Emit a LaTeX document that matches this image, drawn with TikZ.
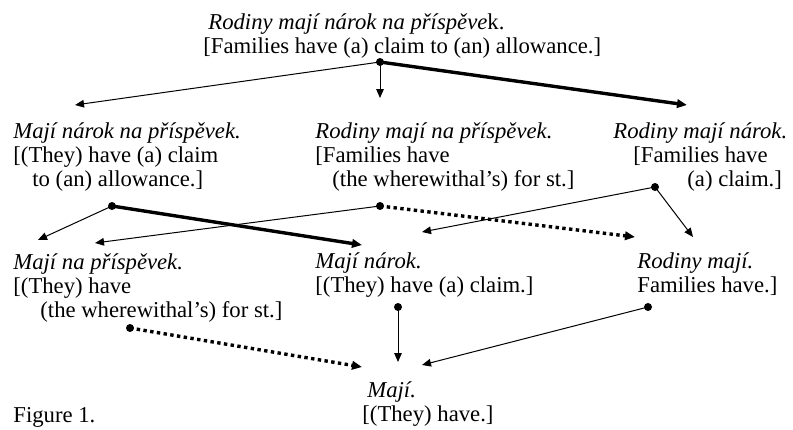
\documentclass[tikz,border=0pt]{standalone}
\usepackage{fontspec}
\setmainfont{Liberation Serif}
\usetikzlibrary{arrows.meta}

\begin{document}
\begin{tikzpicture}[
    x=0.5pt, y=-0.5pt,
    sentence/.style={anchor=base west, align=left, inner sep=0pt,
        font=\fontsize{11.35}{12}\selectfont},
    dot/.style={circle, fill=black, inner sep=0pt, minimum size=4pt},
    thin_arrow/.style={-{Triangle[length=4.5pt,width=3.8pt]}, line width=0.5pt},
    thick_arrow/.style={-{Triangle[length=5pt,width=4.2pt]}, line width=1.7pt},
    dotted_arrow/.style={thick_arrow, dash pattern=on 1.7pt off 1.7pt}
]
    \useasboundingbox (0,0) rectangle (793,429);
    % Frases (anchored at the last line)
    \node[sentence] (full) at (203,53) {\hspace*{2.5pt}\textit{Rodiny mají nárok na příspěve}k.\\{[}Families have (a) claim to (an) allowance.]};
    \node[sentence] (claim_allow) at (13,186) {\textit{Mají nárok na příspěvek.}\\{[}(They) have (a) claim\\\hspace*{9.5pt}to (an) allowance.]};
    \node[sentence] (fam_allow) at (315,186) {\textit{Rodiny mají na příspěvek.}\\{[}Families have\\\hspace*{8.5pt}(the wherewithal’s) for st.]};
    \node[sentence] (fam_claim) at (613,186) {\textit{Rodiny mají nárok.}\\\hspace*{10pt}{[}Families have\\\hspace*{37pt}(a) claim.]};
    \node[sentence] (allow) at (13,317) {\textit{Mají na příspěvek.}\\{[}(They) have\\\hspace*{13.5pt}(the wherewithal’s) for st.]};
    \node[sentence] (claim) at (315,292) {\textit{Mají nárok.}\\{[}(They) have (a) claim.]};
    \node[sentence] (fam) at (637,292) {\textit{Rodiny mají.}\\Families have.]};
    \node[sentence] (have) at (362,421) {\hspace*{2.5pt}\textit{Mají.}\\{[}(They) have.]};
    \node[sentence] (fig) at (13,422) {Figure 1.};
    % Body
    \node[dot] (d_full) at (380,62) {};
    \node[dot] (d_claim_allow) at (112,206) {};
    \node[dot] (d_fam_allow) at (380,206) {};
    \node[dot] (d_fam_claim) at (655,187) {};
    \node[dot] (d_allow) at (130,328) {};
    \node[dot] (d_claim) at (398,307) {};
    \node[dot] (d_fam) at (648,307) {};
    % Konce šipek
    \coordinate (to_claim_allow) at (75,105);
    \coordinate (to_fam_allow) at (380,98);
    \coordinate (to_fam_claim) at (687,105);
    \coordinate (to_allow_a) at (38,240);
    \coordinate (to_allow_b) at (95,243);
    \coordinate (to_claim_a) at (362,245);
    \coordinate (to_claim_b) at (422,232);
    \coordinate (to_fam_a) at (635,237);
    \coordinate (to_fam_b) at (693,237);
    \coordinate (to_have_a) at (362,367);
    \coordinate (to_have_b) at (398,362);
    \coordinate (to_have_c) at (422,365);
    % Šipky
    \draw[thin_arrow] (d_full.center) -- (to_claim_allow);
    \draw[thin_arrow] (d_full.center) -- (to_fam_allow);
    \draw[thick_arrow] (d_full.center) -- (to_fam_claim);
    \draw[thin_arrow] (d_claim_allow.center) -- (to_allow_a);
    \draw[thick_arrow] (d_claim_allow.center) -- (to_claim_a);
    \draw[thin_arrow] (d_fam_allow.center) -- (to_allow_b);
    \draw[dotted_arrow] (d_fam_allow.center) -- (to_fam_a);
    \draw[thin_arrow] (d_fam_claim.center) -- (to_claim_b);
    \draw[thin_arrow] (d_fam_claim.center) -- (to_fam_b);
    \draw[dotted_arrow] (d_allow.center) -- (to_have_a);
    \draw[thin_arrow] (d_claim.center) -- (to_have_b);
    \draw[thin_arrow] (d_fam.center) -- (to_have_c);
\end{tikzpicture}
\end{document}
